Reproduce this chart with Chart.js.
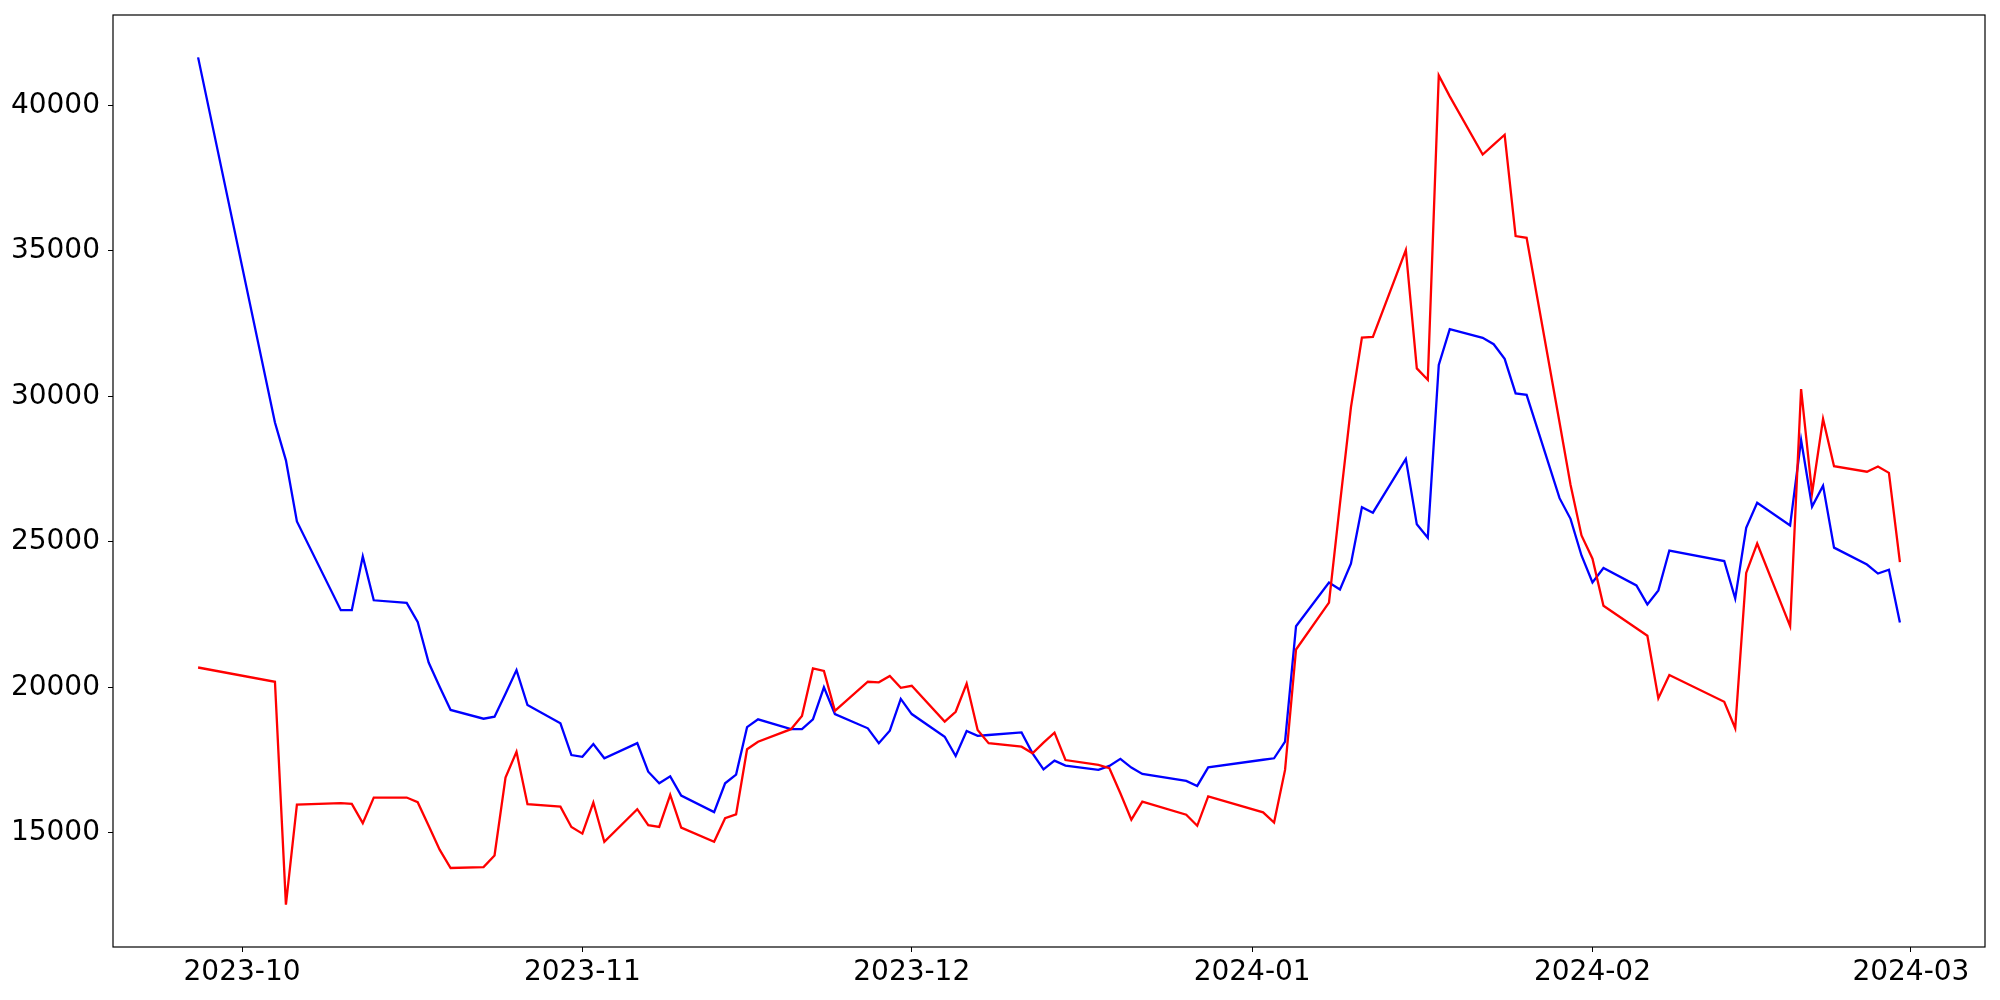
<!DOCTYPE html>
<html>
<head>
<meta charset="utf-8">
<script src="https://cdn.jsdelivr.net/npm/chart.js@4.4.0/dist/chart.umd.min.js"></script>
<style>
  html, body { margin: 0; padding: 0; background: #fff; }
  canvas { display: block; }
</style>
</head>
<body>
<canvas id="priceCanvas" width="2000" height="1000"></canvas>
<script>
const dates = [
    '2023-09-27', '2023-10-04', '2023-10-05', '2023-10-06', '2023-10-10', '2023-10-11', '2023-10-12', '2023-10-13',
    '2023-10-16', '2023-10-17', '2023-10-18', '2023-10-19', '2023-10-20', '2023-10-23', '2023-10-24', '2023-10-25',
    '2023-10-26', '2023-10-27', '2023-10-30', '2023-10-31', '2023-11-01', '2023-11-02', '2023-11-03', '2023-11-06',
    '2023-11-07', '2023-11-08', '2023-11-09', '2023-11-10', '2023-11-13', '2023-11-14', '2023-11-15', '2023-11-16',
    '2023-11-17', '2023-11-20', '2023-11-21', '2023-11-22', '2023-11-23', '2023-11-24', '2023-11-27', '2023-11-28',
    '2023-11-29', '2023-11-30', '2023-12-01', '2023-12-04', '2023-12-05', '2023-12-06', '2023-12-07', '2023-12-08',
    '2023-12-11', '2023-12-12', '2023-12-13', '2023-12-14', '2023-12-15', '2023-12-18', '2023-12-19', '2023-12-20',
    '2023-12-21', '2023-12-22', '2023-12-26', '2023-12-27', '2023-12-28', '2024-01-02', '2024-01-03', '2024-01-04',
    '2024-01-05', '2024-01-08', '2024-01-09', '2024-01-10', '2024-01-11', '2024-01-12', '2024-01-15', '2024-01-16',
    '2024-01-17', '2024-01-18', '2024-01-19', '2024-01-22', '2024-01-23', '2024-01-24', '2024-01-25', '2024-01-26',
    '2024-01-29', '2024-01-30', '2024-01-31', '2024-02-01', '2024-02-02', '2024-02-05', '2024-02-06', '2024-02-07',
    '2024-02-08', '2024-02-13', '2024-02-14', '2024-02-15', '2024-02-16', '2024-02-19', '2024-02-20', '2024-02-21',
    '2024-02-22', '2024-02-23', '2024-02-26', '2024-02-27', '2024-02-28', '2024-02-29'
];

const blueValues = [
    41650, 29100, 27800, 25700, 22650, 22650, 24500, 22990,
    22900, 22250, 20850, 20020, 19220, 18920, 18990, 19780,
    20590, 19390, 18760, 17670, 17610, 18050, 17560, 18080,
    17100, 16700, 16940, 16280, 15710, 16700, 17000, 18630,
    18900, 18560, 18560, 18900, 20000, 19080, 18590, 18080,
    18510, 19600, 19080, 18300, 17640, 18500, 18330, 18360,
    18450, 17730, 17180, 17480, 17310, 17160, 17300, 17540,
    17240, 17020, 16780, 16610, 17250, 17510, 17560, 18130,
    22100, 23600, 23360, 24250, 26190, 26000, 27850, 25600,
    25140, 31080, 32310, 32010, 31790, 31290, 30100, 30050,
    26500, 25790, 24530, 23600, 24100, 23500, 22850, 23330,
    24700, 24340, 23050, 25480, 26340, 25560, 28500, 26210,
    26930, 24800, 24220, 23910, 24040, 22230
];

const redValues = [
    20680, 20190, 12530, 15970, 16020, 15990, 15330, 16210,
    16210, 16050, 15240, 14420, 13790, 13820, 14220, 16900,
    17780, 15980, 15900, 15200, 14970, 16040, 14690, 15810,
    15260, 15200, 16300, 15180, 14690, 15500, 15630, 17870,
    18130, 18560, 19010, 20650, 20560, 19190, 20190, 20170,
    20390, 19980, 20050, 18820, 19160, 20130, 18530, 18080,
    17960, 17730, 18100, 18440, 17500, 17330, 17220, 16360,
    15450, 16070, 15620, 15240, 16250, 15700, 15350, 17160,
    21300, 22910, 26300, 29620, 32020, 32040, 35030, 30960,
    30570, 41030, 40310, 38310, 38650, 38990, 35510, 35450,
    29100, 26960, 25220, 24420, 22800, 22030, 21770, 19620,
    20420, 19500, 18590, 23930, 24940, 22100, 30250, 26670,
    29220, 27600, 27410, 27590, 27370, 24300
];

const xTickLabels = ['2023-10', '2023-11', '2023-12', '2024-01', '2024-02', '2024-03'];
const yTicks = [15000, 20000, 25000, 30000, 35000, 40000];

// dates -> day numbers counted from 2023-10-01 (linear x axis, no date adapter)
const DAY = 86400000;
const origin = Date.UTC(2023, 9, 1);
function dayNumber(s) {
    const [y, m, d] = s.split('-').map(Number);
    return (Date.UTC(y, m - 1, d) - origin) / DAY;
}

const xs = dates.map(dayNumber);
const xMinData = Math.min(...xs), xMaxData = Math.max(...xs);
const allY = blueValues.concat(redValues);
const yMinData = Math.min(...allY), yMaxData = Math.max(...allY);
const xPad = (xMaxData - xMinData) * 0.05;
const yPad = (yMaxData - yMinData) * 0.05;

const tickFont = { family: 'DejaVu Sans', size: 28 };

const framePlugin = {
    id: 'frame',
    afterDraw(chart) {
        const a = chart.chartArea;
        const c = chart.ctx;
        c.save();
        c.strokeStyle = '#000';
        c.lineWidth = 1.2;
        c.strokeRect(a.left, a.top, a.right - a.left, a.bottom - a.top);
        c.restore();
    }
};

const ctxPrice = document.getElementById('priceCanvas').getContext('2d');
const priceChart = new Chart(ctxPrice, {
    type: 'line',
    data: {
        datasets: [
            {
                label: 'red',
                data: xs.map((x, i) => ({ x: x, y: redValues[i] })),
                borderColor: '#ff0000',
                borderWidth: 2.3,
                pointRadius: 0,
                tension: 0,
                fill: false,
                order: 0
            },
            {
                label: 'blue',
                data: xs.map((x, i) => ({ x: x, y: blueValues[i] })),
                borderColor: '#0000ff',
                borderWidth: 2.3,
                pointRadius: 0,
                tension: 0,
                fill: false,
                order: 1
            }
        ]
    },
    options: {
        responsive: false,
        animation: false,
        events: [],
        layout: { padding: { top: 15, right: 15, left: 0, bottom: 0 } },
        plugins: {
            legend: { display: false },
            tooltip: { enabled: false }
        },
        scales: {
            x: {
                type: 'linear',
                min: xMinData - xPad,
                max: xMaxData + xPad,
                border: { display: false },
                grid: { drawOnChartArea: false, drawTicks: true, tickLength: 5, color: '#000', lineWidth: 1 },
                afterBuildTicks: (scale) => {
                    scale.ticks = xTickLabels.map(l => ({ value: dayNumber(l + '-01') }));
                },
                afterFit: (scale) => {
                    scale.height = 53;
                    scale.paddingLeft = 0;
                    scale.paddingRight = 0;
                },
                ticks: {
                    font: tickFont,
                    color: '#000',
                    padding: 4,
                    maxRotation: 0,
                    autoSkip: false,
                    callback: (value, index) => xTickLabels[index]
                }
            },
            y: {
                min: yMinData - yPad,
                max: yMaxData + yPad,
                border: { display: false },
                grid: { drawOnChartArea: false, drawTicks: true, tickLength: 5, color: '#000', lineWidth: 1 },
                afterBuildTicks: (scale) => {
                    scale.ticks = yTicks.map(v => ({ value: v }));
                },
                afterFit: (scale) => {
                    scale.width = 113;
                    scale.paddingTop = 0;
                    scale.paddingBottom = 0;
                },
                ticks: {
                    font: tickFont,
                    color: '#000',
                    padding: 8,
                    autoSkip: false,
                    callback: (value) => String(value)
                }
            }
        }
    },
    plugins: [framePlugin]
});
</script>
</body>
</html>
